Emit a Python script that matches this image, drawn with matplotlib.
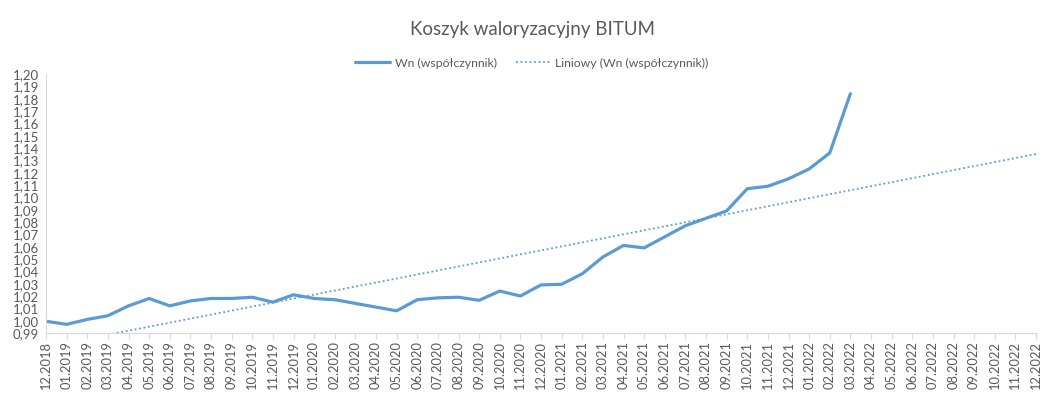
import matplotlib.pyplot as plt
import numpy as np

months = [f"{m:02d}.{y}" for y in range(2019, 2023) for m in range(1, 13)]
months = ["12.2018"] + months

wn = [0.9995, 0.997, 1.001, 1.004, 1.012, 1.018, 1.012, 1.016, 1.018, 1.018,
      1.019, 1.015, 1.021, 1.018, 1.017, 1.014, 1.011, 1.008, 1.017, 1.0185,
      1.019, 1.0165, 1.024, 1.020, 1.029, 1.0295, 1.038, 1.0516, 1.061, 1.059,
      1.068, 1.077, 1.083, 1.089, 1.107, 1.109, 1.115, 1.123, 1.136, 1.184]

plt.rcParams['font.family'] = ['Lato', 'DejaVu Sans']
grey = '#595959'
blue = '#5B9BD5'

fig = plt.figure(figsize=(10.64, 3.95), dpi=100)
ax = fig.add_axes([46 / 1064, 1 - 333 / 395, 990 / 1064, 259 / 395])

x = np.arange(len(months))
xd = np.arange(len(wn))
ax.plot(xd, wn, color=blue, linewidth=2.3, label='Wn (współczynnik)', solid_capstyle='round')

# linia trendu (liniowa), przedłużona do końca osi
a, b = np.polyfit(xd, wn, 1)
ax.plot(x, a * x + b, color=blue, linewidth=1.3, linestyle=(0, (1, 1.5)),
        label='Liniowy (Wn (współczynnik))')

ax.set_xlim(0, len(months) - 1)
ax.set_ylim(0.99, 1.20)
yt = np.round(np.arange(0.99, 1.2001, 0.01), 2)
ax.set_yticks(yt)
ax.set_yticklabels([f"{v:.2f}".replace('.', ',') for v in yt], color=grey, fontsize=9.5)
ax.set_xticks(x)
ax.set_xticklabels(months, rotation=90, color=grey, fontsize=9.3)
ax.tick_params(axis='y', length=0, pad=5)
ax.tick_params(axis='x', length=4, color='#d9d9d9', pad=2)

for s in ['top', 'right']:
    ax.spines[s].set_visible(False)
for s in ['left', 'bottom']:
    ax.spines[s].set_color('#d9d9d9')

fig.text(0.5, 1 - 30 / 395, 'Koszyk waloryzacyjny BITUM', ha='center', va='center',
         fontsize=13.5, color=grey)
ax.legend(loc='center', bbox_to_anchor=(0.5, 1 - 63 / 395), bbox_transform=fig.transFigure,
          ncol=2, frameon=False, fontsize=8.8, labelcolor=grey, handlelength=2.8,
          columnspacing=1.6, handletextpad=0.4)

fig.savefig('out.png', dpi=100)
